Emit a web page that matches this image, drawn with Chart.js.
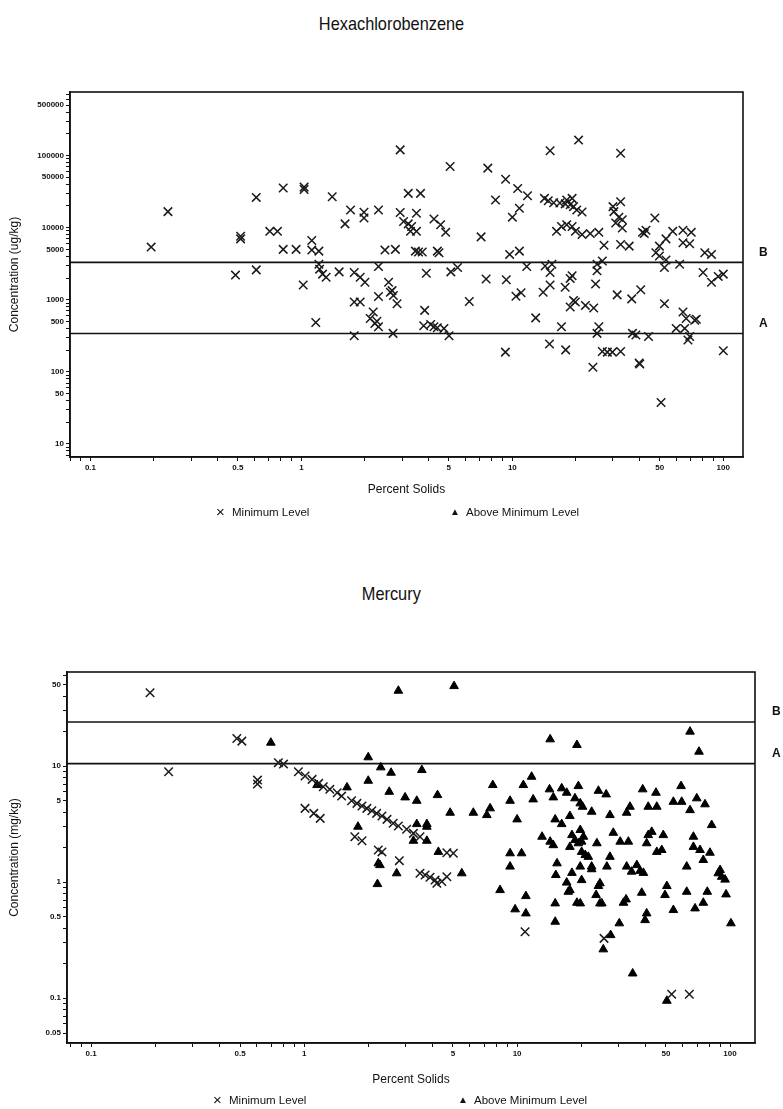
<!DOCTYPE html>
<html>
<head>
<meta charset="utf-8">
<title>Hexachlorobenzene and Mercury vs Percent Solids</title>
<script src="https://cdn.jsdelivr.net/npm/chart.js@4.4.1/dist/chart.umd.min.js"></script>
<style>
  body { margin: 0; background: #fff; width: 783px; height: 1109px; position: relative; overflow: hidden;
         font-family: "Liberation Sans", Arial, sans-serif; color: #111; }
  .title { position: absolute; left: 0; width: 783px; text-align: center; font-size: 19px; }
  .title span { display: inline-block; transform: scaleX(0.86); }
  .box { position: absolute; left: 0; width: 783px; }
  .legend { position: absolute; font-size: 11.5px; white-space: nowrap; line-height: 14px; }
  .legend .sym { display: inline-block; width: 16px; font-size: 15px; vertical-align: -1px; }
  .legend .tri { font-size: 10px; vertical-align: 1px; }
</style>
</head>
<body>
<div class="title" style="top:13px"><span>Hexachlorobenzene</span></div>
<div class="box" style="top:80px;height:460px"><canvas id="hcbChart"></canvas></div>
<div class="legend" style="left:216px;top:505px"><span class="sym">×</span>Minimum Level</div>
<div class="legend" style="left:450px;top:505px"><span class="sym tri">▲</span>Above Minimum Level</div>

<div class="title" style="top:583px"><span>Mercury</span></div>
<div class="box" style="top:660px;height:449px"><canvas id="hgChart"></canvas></div>
<div class="legend" style="left:213px;top:1093px"><span class="sym">×</span>Minimum Level</div>
<div class="legend" style="left:458px;top:1093px"><span class="sym tri">▲</span>Above Minimum Level</div>

<script>
// tick labels
const xTickLabels = [0.1, 0.5, 1, 5, 10, 50, 100];
const hcbYTickLabels = [10, 50, 100, 500, 1000, 5000, 10000, 50000, 100000, 500000];
const hgYTickLabels = [0.05, 0.1, 0.5, 1, 5, 10, 50];

// reference levels (horizontal lines)
const hcbLevelNames = ['B', 'A'];
const hcbLevels = [3300, 340];
const hgLevelNames = ['B', 'A'];
const hgLevels = [24, 10.5];

// hexachlorobenzene, ug/kg - all at minimum level
const hcbMinX = [
  0.194, 0.233, 0.515, 0.515, 0.611, 0.708, 0.770, 0.82, 0.82, 0.944,
  1.03, 1.03, 1.12, 1.12, 1.21, 1.40, 1.61, 1.71, 1.98, 1.98,
  2.32, 2.49, 2.79, 2.94, 2.94, 3.05, 3.21, 3.67, 3.21, 3.33,
  3.29, 3.51, 3.51, 3.59, 3.74, 4.25, 4.57, 4.83, 4.41, 4.49,
  5.07, 7.65, 9.29, 10.6, 11.8, 8.32, 10.8, 10.0, 14.2, 14.8,
  15.7, 15.1, 20.6, 32.6, 16.8, 17.8, 18.8, 19.2, 19.5, 20.2,
  21.4, 18.1, 16.2, 17.1, 18.1, 19.2, 19.9, 21.4, 23.4, 25.7,
  30.0, 32.6, 30.3, 32.0, 33.2, 30.9, 33.2, 47.4, 41.4, 43.0,
  42.2, 27.2, 32.6, 35.8, 7.11, 9.71, 10.8, 57.6, 64.4, 70.5,
  64.4, 69.3, 53.5, 49.8, 47.9, 81.7, 87.9, 3.47, 0.487, 0.611,
  1.02, 1.21, 1.22, 1.26, 1.31, 1.51, 1.17, 1.78, 1.90, 2.00,
  2.32, 1.78, 1.90, 2.32, 2.59, 2.69, 2.73, 2.84, 2.64, 2.19,
  2.12, 2.23, 2.32, 2.28, 1.78, 2.72, 3.91, 3.84, 3.80, 4.10,
  4.25, 5.11, 5.50, 6.25, 7.51, 9.36, 11.7, 10.4, 11.0, 14.0,
  15.1, 15.1, 14.3, 15.4, 17.8, 18.8, 19.2, 19.5, 18.8, 19.9,
  22.2, 24.3, 24.8, 25.2, 25.2, 26.7, 31.4, 36.8, 40.6, 4.41,
  4.74, 5.01, 12.9, 17.1, 25.7, 25.2, 37.1, 38.5, 44.2, 52.6,
  52.6, 62.1, 53.5, 49.8, 64.4, 66.7, 73.2, 74.5, 59.8, 65.6,
  68.0, 69.3, 80.2, 87.9, 94.6, 100, 9.27, 15.0, 17.9, 26.7,
  28.2, 29.8, 32.6, 24.1, 39.9, 40.2, 100, 50.7
];
const hcbMinY = [
  5380, 16700, 7600, 7000, 26300, 8900, 8900, 35600, 5000, 5000,
  33900, 36500, 6640, 4890, 4730, 26800, 11300, 17600, 16400, 13600,
  17600, 4890, 5000, 120000, 16200, 12200, 29900, 29900, 11300, 10400,
  8900, 8900, 15900, 4590, 4590, 13200, 11000, 8620, 4730, 4500,
  70600, 67000, 46900, 35000, 27700, 24200, 18600, 14000, 25500, 23700,
  22200, 117000, 164000, 108000, 22000, 21400, 20800, 25500, 19600, 17600,
  16500, 24200, 8900, 10400, 11000, 10400, 8900, 8020, 8280, 8620,
  19600, 22900, 16700, 14000, 12900, 11600, 9910, 13600, 8620, 9190,
  8280, 5720, 5850, 5550, 7460, 4260, 4730, 8900, 9190, 8620,
  6170, 5980, 7000, 5550, 4500, 4500, 4260, 4730, 2200, 2600,
  1600, 3110, 2660, 2270, 2050, 2440, 484, 2390, 2050, 1750,
  2890, 930, 930, 1110, 1750, 1340, 1150, 881, 1270, 678,
  549, 469, 423, 504, 318, 342, 2340, 713, 436, 455,
  423, 2440, 2810, 948, 1940, 1900, 2890, 1120, 1250, 1270,
  1600, 2390, 2950, 3110, 1490, 1980, 2150, 978, 795, 930,
  836, 770, 1660, 2520, 3110, 3450, 1170, 1030, 1380, 410,
  401, 318, 561, 423, 423, 342, 342, 324, 309, 881,
  2810, 3110, 3560, 4040, 678, 549, 520, 537, 401, 401,
  277, 309, 2390, 1750, 2110, 2270, 188, 244, 202, 192,
  188, 188, 192, 116, 133, 129, 196, 37.6
];
const hcbAboveX = [];
const hcbAboveY = [];

// mercury, mg/kg
const hgMinX = [
  0.189, 0.231, 0.483, 0.510, 0.604, 0.604, 0.757, 0.800, 0.940, 1.01,
  1.09, 1.17, 1.23, 1.32, 1.43, 1.50, 1.67, 1.77, 1.87, 1.97,
  2.08, 2.19, 2.32, 2.45, 2.62, 2.77, 3.03, 3.26, 3.50, 1.01,
  1.11, 1.19, 1.73, 1.87, 2.23, 2.32, 2.80, 3.50, 3.70, 3.90,
  4.12, 4.20, 4.43, 4.68, 4.68, 5.02, 10.9, 25.6, 53.2, 64.4
];
const hgMinY = [
  42.8, 8.93, 17.3, 16.4, 7.57, 7.00, 10.7, 10.4, 8.93, 8.20,
  7.68, 7.09, 6.64, 6.30, 5.89, 5.51, 5.02, 4.77, 4.52, 4.32,
  4.12, 3.91, 3.71, 3.47, 3.21, 3.04, 2.85, 2.63, 2.46, 4.32,
  3.91, 3.54, 2.46, 2.27, 1.89, 1.82, 1.53, 1.19, 1.15, 1.10,
  1.04, 0.975, 1.01, 1.11, 1.79, 1.77, 0.373, 0.327, 0.108, 0.108
];
const hgAboveX = [
  2.77, 5.06, 0.698, 2.00, 2.29, 2.56, 3.57, 2.00, 1.59, 1.15,
  2.51, 2.98, 3.38, 4.23, 1.79, 3.38, 3.77, 3.77, 3.26, 3.77,
  4.27, 2.23, 2.27, 2.72, 2.21, 14.3, 19.1, 64.9, 71.5, 11.7,
  10.7, 7.69, 9.27, 11.9, 14.2, 16.2, 17.1, 19.4, 14.8, 18.7,
  19.8, 20.3, 24.1, 26.2, 38.9, 44.9, 58.9, 54.2, 59.3, 69.8,
  76.3, 64.9, 4.85, 6.23, 7.21, 7.47, 10.0, 22.4, 27.3, 33.9,
  32.7, 41.3, 45.3, 15.1, 16.2, 17.7, 82.0, 13.1, 14.3, 14.8,
  18.1, 18.7, 19.8, 20.5, 19.4, 20.1, 23.7, 28.3, 30.5, 33.3,
  41.3, 42.9, 40.6, 48.6, 67.3, 67.3, 72.3, 80.5, 45.3, 47.8,
  9.27, 10.5, 17.7, 20.1, 20.9, 21.6, 27.3, 74.9, 9.27, 15.4,
  19.8, 22.4, 26.4, 32.7, 36.5, 62.6, 89.8, 5.50, 15.2, 18.1,
  22.4, 20.1, 17.1, 17.7, 17.4, 24.5, 24.1, 23.5, 24.5, 34.5,
  37.8, 39.2, 88.1, 91.4, 94.8, 8.32, 11.0, 9.79, 11.0, 15.1,
  15.1, 19.1, 19.8, 25.0, 31.6, 32.5, 38.5, 40.6, 39.9, 30.2,
  50.5, 49.5, 54.2, 62.6, 68.5, 74.9, 78.2, 95.8, 101, 27.5,
  25.4, 34.9, 50.5
];
const hgAboveY = [
  44.6, 48.9, 15.9, 11.9, 9.75, 8.76, 9.24, 7.47, 6.55, 6.86,
  6.00, 5.37, 5.02, 5.62, 3.00, 3.16, 3.16, 3.00, 2.27, 2.27,
  1.82, 1.45, 1.40, 1.19, 0.961, 17.0, 15.2, 19.8, 13.3, 8.09,
  6.86, 6.86, 5.02, 5.16, 6.30, 6.43, 5.89, 6.72, 5.37, 5.27,
  4.77, 4.46, 6.12, 5.70, 6.30, 5.89, 6.72, 4.92, 4.92, 5.27,
  4.68, 4.17, 3.96, 3.96, 3.78, 4.32, 3.47, 4.04, 3.78, 4.46,
  3.96, 4.46, 4.46, 3.47, 3.16, 3.71, 3.10, 2.46, 2.23, 2.08,
  2.54, 2.30, 2.81, 2.46, 2.16, 2.23, 2.16, 2.66, 2.23, 2.23,
  2.54, 2.71, 2.16, 2.54, 2.46, 2.01, 1.89, 1.79, 1.82, 1.89,
  1.77, 1.77, 2.01, 1.82, 1.71, 1.65, 1.65, 1.55, 1.36, 1.45,
  1.36, 1.36, 1.36, 1.36, 1.40, 1.36, 1.27, 1.19, 1.15, 1.20,
  1.29, 1.04, 0.99, 0.853, 0.825, 0.975, 0.924, 0.773, 0.655, 1.23,
  1.25, 1.20, 1.19, 1.11, 1.05, 0.853, 0.757, 0.582, 0.537, 0.655,
  0.455, 0.663, 0.655, 0.655, 0.663, 0.709, 0.809, 0.537, 0.470, 0.441,
  0.924, 0.773, 0.574, 0.825, 0.593, 0.663, 0.825, 0.783, 0.441, 0.349,
  0.263, 0.163, 0.0948
];

const FONT = '"Liberation Sans", Arial, sans-serif';
const INK = '#111';

// every 1..9 x 10^n step between min and max, labelled ones get text
function logTicks(min, max) {
  const out = [];
  for (let e = Math.floor(Math.log10(min)); e <= Math.ceil(Math.log10(max)); e++) {
    for (let m = 1; m < 10; m++) {
      const v = +(m * Math.pow(10, e)).toPrecision(6);
      if (v >= min && v <= max) out.push({ value: v });
    }
  }
  return out;
}
function isLabelled(list, v) {
  return list.some(t => Math.abs(t - v) / t < 1e-6);
}
function pairs(xs, ys) {
  return xs.map((x, i) => ({ x: x, y: ys[i] }));
}

// frame around plot area + B / A level labels outside on the right
const framePlugin = {
  id: 'frame',
  afterDatasetsDraw(chart, args, opts) {
    const { ctx, chartArea: a, scales } = chart;
    ctx.save();
    ctx.strokeStyle = INK;
    ctx.lineWidth = 1.6;
    ctx.strokeRect(a.left, a.top, a.right - a.left, a.bottom - a.top);
    ctx.fillStyle = INK;
    ctx.font = 'bold 12px ' + FONT;
    ctx.textBaseline = 'middle';
    opts.names.forEach((n, i) => {
      const y = scales.y.getPixelForValue(opts.levels[i]);
      ctx.fillText(n, a.right + opts.gap, y - 10);
    });
    ctx.restore();
  }
};

function makeChart(id, cfg) {
  const levelSets = cfg.levels.map(v => ({
    type: 'line',
    data: [{ x: cfg.xMin, y: v }, { x: cfg.xMax, y: v }],
    borderColor: INK,
    borderWidth: 1.6,
    pointRadius: 0,
    showLine: true
  }));
  return new Chart(document.getElementById(id), {
    type: 'scatter',
    data: {
      datasets: [
        {
          label: 'Minimum Level',
          data: pairs(cfg.minX, cfg.minY),
          pointStyle: 'crossRot',
          pointRadius: 6,
          borderColor: '#1a1a1a',
          borderWidth: 1.5,
          backgroundColor: 'rgba(0,0,0,0)'
        },
        {
          label: 'Above Minimum Level',
          data: pairs(cfg.aboveX, cfg.aboveY),
          pointStyle: 'triangle',
          pointRadius: 5,
          borderColor: '#000',
          borderWidth: 1,
          backgroundColor: '#000'
        }
      ].concat(levelSets)
    },
    options: {
      responsive: true,
      maintainAspectRatio: false,
      animation: false,
      layout: { padding: { top: 12, right: cfg.padRight, bottom: cfg.padBottom, left: 0 } },
      plugins: {
        legend: { display: false },
        tooltip: { enabled: false },
        frame: { names: cfg.levelNames, levels: cfg.levels, gap: cfg.labelGap }
      },
      scales: {
        x: {
          type: 'logarithmic',
          min: cfg.xMin,
          max: cfg.xMax,
          afterBuildTicks: s => { s.ticks = logTicks(cfg.xMin, cfg.xMax); },
          afterFit: s => { s.height = 50; },
          border: { display: true, color: INK, width: 1.6 },
          grid: { drawOnChartArea: false, drawTicks: true, tickLength: 4, color: INK },
          ticks: {
            autoSkip: false, maxRotation: 0, padding: 2, color: INK,
            font: { family: FONT, size: 8, weight: 'bold' },
            callback: v => isLabelled(xTickLabels, v) ? String(v) : ''
          },
          title: {
            display: true, text: 'Percent Solids', color: INK,
            font: { family: FONT, size: 12 }, padding: { top: 0, bottom: cfg.xTitlePad }
          }
        },
        y: {
          type: 'logarithmic',
          min: cfg.yMin,
          max: cfg.yMax,
          afterBuildTicks: s => { s.ticks = logTicks(cfg.yMin, cfg.yMax); },
          afterFit: s => { s.width = cfg.yWidth; },
          border: { display: true, color: INK, width: 1.6 },
          grid: { drawOnChartArea: false, drawTicks: true, tickLength: 4, color: INK },
          ticks: {
            autoSkip: false, padding: 2, color: INK,
            font: { family: FONT, size: 8, weight: 'bold' },
            callback: v => isLabelled(cfg.yLabels, v) ? String(v) : ''
          },
          title: {
            display: true, text: cfg.yTitle, color: INK,
            font: { family: FONT, size: 12 }, padding: { top: 7, bottom: 0 }
          }
        }
      }
    },
    plugins: [framePlugin]
  });
}

makeChart('hcbChart', {
  minX: hcbMinX, minY: hcbMinY, aboveX: hcbAboveX, aboveY: hcbAboveY,
  levels: hcbLevels, levelNames: hcbLevelNames,
  xMin: 0.08, xMax: 124, yMin: 6.6, yMax: 762000,
  yLabels: hcbYTickLabels, yTitle: 'Concentration (ug/kg)',
  yWidth: 70, padRight: 40, padBottom: 33, xTitlePad: 10, labelGap: 16
});

makeChart('hgChart', {
  minX: hgMinX, minY: hgMinY, aboveX: hgAboveX, aboveY: hgAboveY,
  levels: hgLevels, levelNames: hgLevelNames,
  xMin: 0.077, xMax: 131, yMin: 0.041, yMax: 64.7,
  yLabels: hgYTickLabels, yTitle: 'Concentration (mg/kg)',
  yWidth: 67, padRight: 28, padBottom: 16, xTitlePad: 6, labelGap: 17
});
</script>
</body>
</html>
